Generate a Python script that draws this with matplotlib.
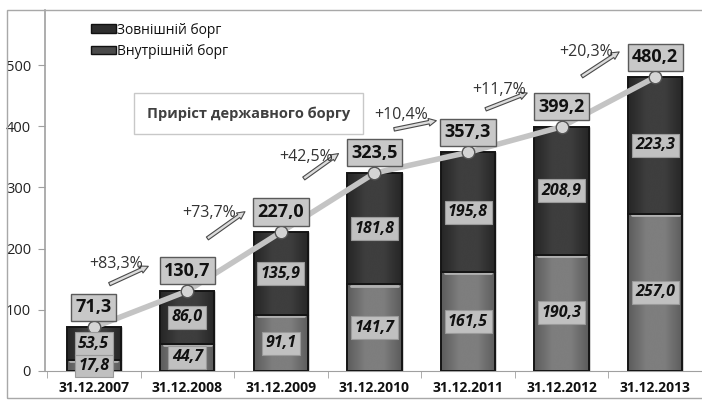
import numpy as np
import matplotlib
matplotlib.use("Agg")
import matplotlib.pyplot as plt
from matplotlib.patches import Rectangle, Patch
from matplotlib.colors import LinearSegmentedColormap

plt.rcParams['font.family'] = ['Open Sans', 'DejaVu Sans']

# data (bn UAH)
dates = ['31.12.2007', '31.12.2008', '31.12.2009', '31.12.2010',
         '31.12.2011', '31.12.2012', '31.12.2013']
domestic = [17.8, 44.7, 91.1, 141.7, 161.5, 190.3, 257.0]   # Внутрішній борг
external = [53.5, 86.0, 135.9, 181.8, 195.8, 208.9, 223.3]  # Зовнішній борг
totals = [71.3, 130.7, 227.0, 323.5, 357.3, 399.2, 480.2]
growth = ['+83,3%', '+73,7%', '+42,5%', '+10,4%', '+11,7%', '+20,3%']

# layout of growth labels / arrows (data coords)
growth_text_xy = [(0.24, 175), (1.23, 258), (2.27, 350), (3.29, 418), (4.33, 459), (5.26, 521)]
arrow_from = [(0.14, 140), (1.19, 214), (2.22, 312), (3.18, 394), (4.16, 426), (5.19, 479)]
arrow_to = [(0.61, 173), (1.64, 263), (2.64, 358), (3.69, 410), (4.66, 456), (5.64, 524)]

W, H = 702, 400
fig = plt.figure(figsize=(W / 100, H / 100), dpi=100)
fig.patch.set_facecolor('white')

# outer chart border
fig.add_artist(Rectangle((7 / W, 2 / H), (W + 10) / W, 388 / H, transform=fig.transFigure,
                         fill=False, edgecolor='#a8a8a8', lw=1.0))

ax = fig.add_axes([45 / W, 29 / H, (W - 45) / W, 361 / H])
x = np.arange(len(dates))
bw = 0.58


def shade(patch, c_edge, c_mid):
    # horizontal gradient inside a bar, darker at the sides
    x0, y0 = patch.get_xy()
    w, h = patch.get_width(), patch.get_height()
    cmap = LinearSegmentedColormap.from_list('g', [c_edge, c_mid, c_mid, c_edge])
    grad = np.linspace(0, 1, 64).reshape(1, -1)
    im = ax.imshow(grad, extent=[x0, x0 + w, y0, y0 + h], aspect='auto', cmap=cmap,
                   zorder=2, interpolation='bicubic')
    im.set_clip_path(patch)


bars_d = ax.bar(x, domestic, bw, color='#7a7a7a', edgecolor='#1a1a1a', lw=1.0, zorder=2)
bars_e = ax.bar(x, external, bw, bottom=domestic, color='#3c3c3c', edgecolor='#1a1a1a', lw=1.0, zorder=2)
for p in bars_d:
    shade(p, '#5c5c5c', '#7e7e7e')
for p in bars_e:
    shade(p, '#262626', '#3e3e3e')
for b in bars_d:
    x0 = b.get_x()
    top = b.get_height()
    ax.plot([x0 + 0.04, x0 + bw - 0.04], [top - 2, top - 2], color='#b0b0b0', lw=2, zorder=3,
            solid_capstyle='round')
for b in list(bars_d) + list(bars_e):
    r = Rectangle(b.get_xy(), b.get_width(), b.get_height(), fill=False,
                  edgecolor='#151515', lw=1.4, zorder=3)
    ax.add_patch(r)

# inner values
inner_box = dict(boxstyle='square,pad=0.22', facecolor='#c0c0c0', edgecolor='#9a9a9a', lw=0.8)
for i in range(len(dates)):
    ax.text(x[i], domestic[i] / 2, f'{domestic[i]:.1f}'.replace('.', ','), ha='center', va='center',
            fontsize=11.5, fontweight='bold', fontstyle='italic', color='#111111', bbox=inner_box, zorder=6)
    ax.text(x[i], domestic[i] + external[i] / 2, f'{external[i]:.1f}'.replace('.', ','), ha='center',
            va='center', fontsize=11.5, fontweight='bold', fontstyle='italic', color='#111111',
            bbox=inner_box, zorder=6)

# total line
ax.plot(x, totals, color='#c4c4c4', lw=4, zorder=4, solid_capstyle='round')
ax.plot(x, totals, 'o', ms=9, mfc='#d4d4d4', mec='#555555', mew=1.0, zorder=5)

# total labels
tot_box = dict(boxstyle='square,pad=0.25', facecolor='#c8c8c8', edgecolor='#5a5a5a', lw=1.0)
for i, t in enumerate(totals):
    ax.annotate(f'{t:.1f}'.replace('.', ','), (x[i], t), xytext=(0, 8), textcoords='offset points',
                ha='center', va='bottom', fontsize=13, fontweight='bold', color='#111111',
                bbox=tot_box, zorder=7)

# growth labels and arrows
for g, (tx, ty), a0, a1 in zip(growth, growth_text_xy, arrow_from, arrow_to):
    ax.annotate('', xy=a1, xytext=a0,
                arrowprops=dict(arrowstyle='simple,head_length=0.55,head_width=0.55,tail_width=0.25',
                                fc='#dcdcdc', ec='#4a4a4a', lw=0.8), zorder=6)
    ax.text(tx, ty, g, ha='center', va='center', fontsize=11.5, color='#333333', zorder=7)

ax.set_xlim((45 - 94.5) / 95, (W - 94.5) / 95)
ax.set_ylim(0, 590)

ax.set_xticks(x)
ax.set_xticklabels(dates, fontsize=10, fontweight='bold', color='#111111')
ax.set_xticks(np.arange(-0.5, len(dates), 1), minor=True)
ax.tick_params(axis='x', which='major', length=0, pad=7)
ax.tick_params(axis='x', which='minor', length=5, color='#a0a0a0')
ax.set_yticks([0, 100, 200, 300, 400, 500])
ax.tick_params(axis='y', length=5, color='#a0a0a0', labelsize=10.5, labelcolor='#222222', pad=5)

for s in ['top', 'right']:
    ax.spines[s].set_visible(False)
ax.spines['left'].set_color('#a0a0a0')
ax.spines['bottom'].set_color('#a0a0a0')
ax.spines['left'].set_linewidth(1.2)

handles = [Patch(facecolor='#2e2e2e', edgecolor='#111111', label='Зовнішній борг'),
           Patch(facecolor='#4a4a4a', edgecolor='#111111', label='Внутрішній борг')]
fig.legend(handles=handles, loc='upper left', bbox_to_anchor=(78 / W, 1 - 10 / H), frameon=False,
           fontsize=10, handlelength=1.8, handleheight=0.55, handletextpad=0.1, labelspacing=0.45,
           labelcolor='#111111')

# title box with a soft shadow
fig.add_artist(Rectangle((148 / W, 1 - 135 / H), 207 / W, 37 / H, transform=fig.transFigure,
                         facecolor='#dddddd', edgecolor='none', zorder=1))
fig.text(248.5 / W, 1 - 113.5 / H, 'Приріст державного боргу', ha='center', va='center',
         fontsize=10.5, fontweight='bold', color='#404040', zorder=2,
         bbox=dict(boxstyle='square,pad=0.9', facecolor='white', edgecolor='#c8c8c8', lw=1.0))

fig.savefig('out.png', dpi=100)
